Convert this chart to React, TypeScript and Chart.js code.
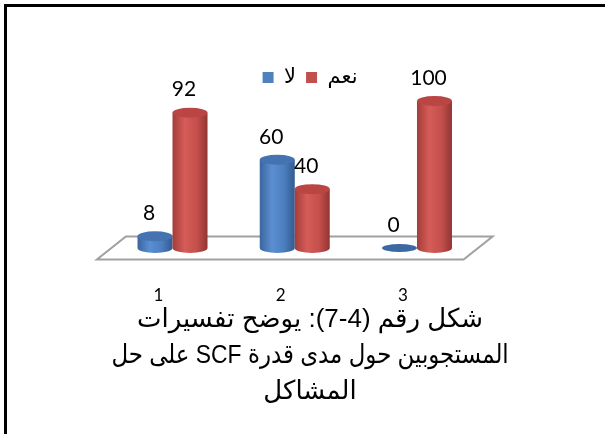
import React, { useEffect, useRef } from 'react';
import { Chart, registerables } from 'chart.js';

Chart.register(...registerables);

// ---- data ----
const categories = ['1', '2', '3'];
const noValues = [8, 60, 0];
const yesValues = [92, 40, 100];
const seriesNames = ['لا', 'نعم'];
const seriesColors = ['#4f81bd', '#c0504d'];
const captionLines = [
  'شكل رقم (4-7): يوضح تفسيرات',
  'المستجوبين حول مدى قدرة SCF على حل',
  'المشاكل',
];

const TEXT_FONT = '"Liberation Sans", "DejaVu Sans", sans-serif';
const NUM_FONT = 'Lato, "Noto Sans", sans-serif';

const shades = [
  { stops: ['#3a659d', '#5b8fd2', '#4c7dbf', '#325a8f'], top: '#4572b1', flat: '#3d69a3' },
  { stops: ['#a23d3a', '#d65c58', '#c44f4c', '#923533'], top: '#b94643', flat: '#a83f3c' },
];

const DEPTH_X = 14.5;
const DEPTH_Y = 11.5;
const RY = 5;

function cylinder(ctx: CanvasRenderingContext2D, cx: number, top: number, base: number, rx: number, s: any) {
  if (base - top < 0.5) {
    ctx.beginPath();
    ctx.ellipse(cx, base, rx, RY - 1, 0, 0, Math.PI * 2);
    ctx.fillStyle = s.flat;
    ctx.fill();
    return;
  }
  const g = ctx.createLinearGradient(cx - rx, 0, cx + rx, 0);
  g.addColorStop(0, s.stops[0]);
  g.addColorStop(0.35, s.stops[1]);
  g.addColorStop(0.7, s.stops[2]);
  g.addColorStop(1, s.stops[3]);
  ctx.beginPath();
  ctx.moveTo(cx - rx, top);
  ctx.lineTo(cx - rx, base);
  ctx.ellipse(cx, base, rx, RY, 0, Math.PI, 0, true);
  ctx.lineTo(cx + rx, top);
  ctx.closePath();
  ctx.fillStyle = g;
  ctx.fill();
  ctx.beginPath();
  ctx.ellipse(cx, top, rx, RY, 0, 0, Math.PI * 2);
  ctx.fillStyle = s.top;
  ctx.fill();
}

const scene3d = {
  id: 'scene3d',
  beforeDraw(chart: any) {
    const { ctx, width, height } = chart;
    ctx.save();
    ctx.fillStyle = '#ffffff';
    ctx.fillRect(0, 0, width, height);
    ctx.fillStyle = '#000000';
    ctx.fillRect(4, 4, 3, height - 4);
    ctx.fillRect(4, 4, width - 4, 3);
    ctx.restore();
  },
  beforeDatasetsDraw(chart: any) {
    const { ctx, chartArea, scales } = chart;
    const y0 = scales.y.getPixelForValue(0);
    ctx.save();
    ctx.beginPath();
    ctx.moveTo(chartArea.left + DEPTH_X, y0 - DEPTH_Y);
    ctx.lineTo(chartArea.right + DEPTH_X, y0 - DEPTH_Y);
    ctx.lineTo(chartArea.right - DEPTH_X, y0 + DEPTH_Y);
    ctx.lineTo(chartArea.left - DEPTH_X, y0 + DEPTH_Y);
    ctx.closePath();
    ctx.fillStyle = '#ffffff';
    ctx.fill();
    ctx.strokeStyle = '#a0a0a0';
    ctx.lineWidth = 2;
    ctx.stroke();
    ctx.restore();
  },
  beforeDatasetDraw() {
    return false;
  },
  afterDatasetsDraw(chart: any) {
    const { ctx } = chart;
    ctx.save();
    const n = chart.data.labels.length;
    for (let i = 0; i < n; i++) {
      chart.data.datasets.forEach((ds: any, d: number) => {
        const el = chart.getDatasetMeta(d).data[i];
        const p = el.getProps(['x', 'y', 'base', 'width'], true);
        cylinder(ctx, p.x, p.y, p.base, p.width / 2, shades[d]);
      });
    }
    ctx.fillStyle = '#000000';
    ctx.font = `21px ${NUM_FONT}`;
    ctx.textAlign = 'center';
    ctx.textBaseline = 'middle';
    chart.data.datasets.forEach((ds: any, d: number) => {
      chart.getDatasetMeta(d).data.forEach((el: any, i: number) => {
        const p = el.getProps(['x', 'y'], true);
        ctx.fillText(String(ds.data[i]), p.x - 6, p.y - 23);
      });
    });
    ctx.restore();
  },
};

export default function App() {
  const ref = useRef<HTMLCanvasElement>(null);
  useEffect(() => {
    const chart = new Chart(ref.current as HTMLCanvasElement, {
      type: 'bar',
      data: {
        labels: categories,
        datasets: [
          { label: seriesNames[0], data: noValues, backgroundColor: seriesColors[0], borderWidth: 0 },
          { label: seriesNames[1], data: yesValues, backgroundColor: seriesColors[1], borderWidth: 0 },
        ],
      },
      options: {
        responsive: false,
        animation: false,
        devicePixelRatio: 1,
        categoryPercentage: 0.5726,
        barPercentage: 1,
        layout: { padding: { left: 111.4, right: 96.3, top: 57, bottom: 24 } },
        plugins: {
          legend: {
            position: 'top',
            labels: {
              boxWidth: 11,
              boxHeight: 11,
              padding: 10,
              color: '#000000',
              font: { size: 21, family: TEXT_FONT },
            },
          },
          title: {
            display: true,
            position: 'bottom',
            text: captionLines,
            color: '#000000',
            font: { size: 26, family: TEXT_FONT, weight: 'normal', lineHeight: 1.385 },
            padding: { top: 0, bottom: 0 },
          },
          tooltip: { enabled: false },
        },
        scales: {
          x: {
            offset: true,
            grid: { display: false, drawTicks: false },
            border: { display: false },
            ticks: {
              padding: 37,
              labelOffset: -14,
              color: '#000000',
              font: { size: 17, family: NUM_FONT },
            },
            afterFit: (axis: any) => {
              axis.height = 54;
            },
          },
          y: {
            position: 'right',
            min: 0,
            max: 102,
            grid: { display: false, drawTicks: false },
            border: { display: false },
            ticks: { display: false },
            afterFit: (axis: any) => {
              axis.width = 30.6;
            },
          },
        },
      },
      plugins: [scene3d],
    } as any);
    return () => chart.destroy();
  }, []);
  return (
    <div style={{ position: 'fixed', left: 0, top: 0, width: 605, height: 434, background: '#ffffff' }}>
      <canvas
        ref={ref}
        width={605}
        height={434}
        style={{ display: 'block', width: 605, height: 434, direction: 'rtl' }}
      />
    </div>
  );
}
